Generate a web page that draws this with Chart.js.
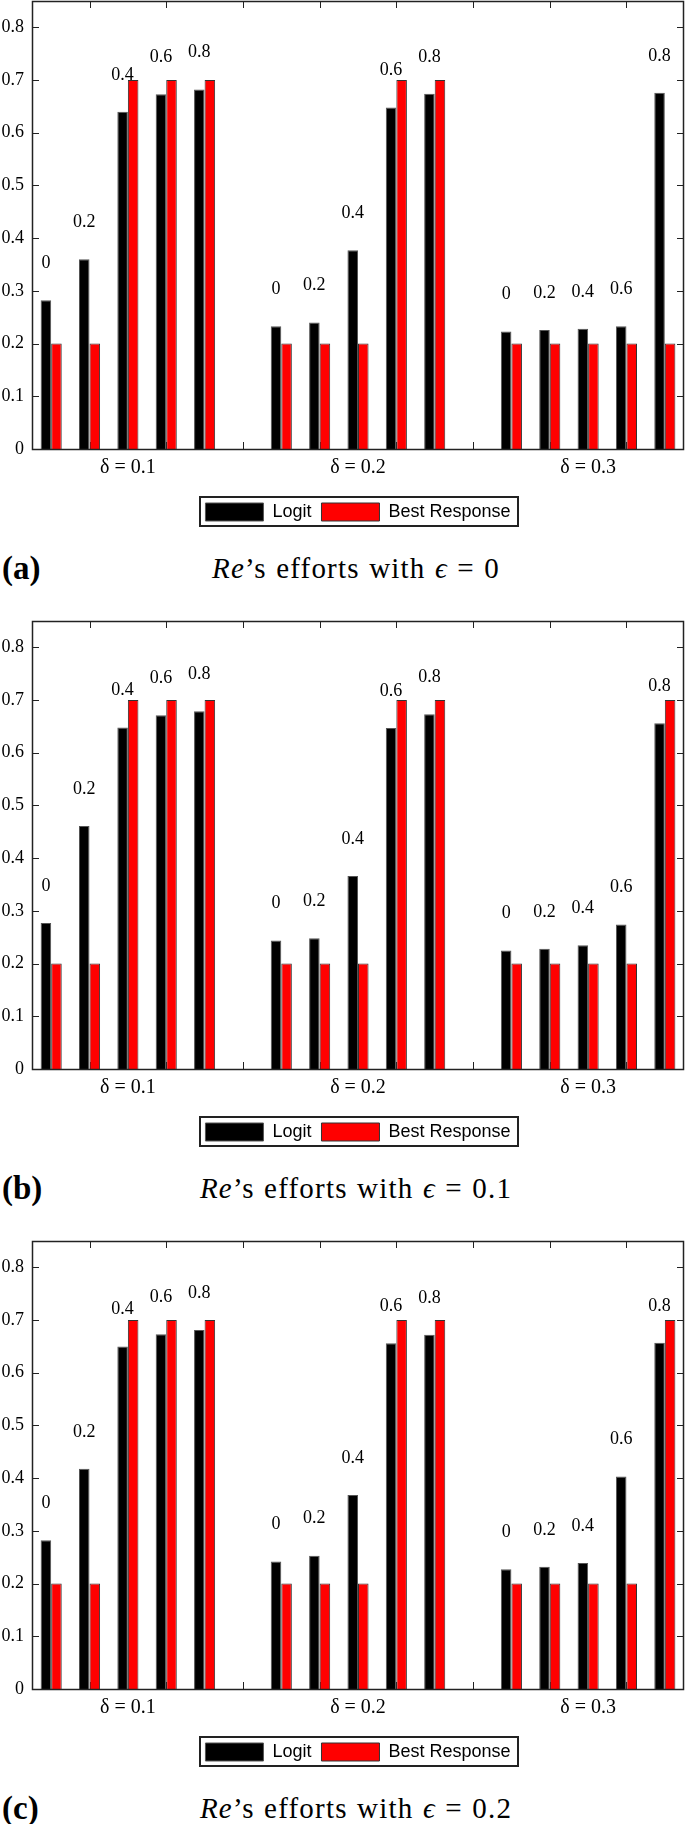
<!DOCTYPE html>
<html>
<head>
<meta charset="utf-8">
<script src="https://cdn.jsdelivr.net/npm/chart.js@4.4.1/dist/chart.umd.min.js"></script>
<style>
  body { margin: 0; background: #fff; width: 685px; height: 1824px; position: relative; overflow: hidden; }
  .panel { position: absolute; left: 0; width: 685px; height: 620px; }
  .panel canvas { position: absolute; left: 0; top: 0; }
  .tag { position: absolute; left: 2px; top: 568px; transform: translateY(-50%); font: bold 33px "Liberation Serif", serif; }
  .cap { position: absolute; left: 356px; top: 568px; transform: translate(-50%, -50%); font: 29px "Liberation Serif", serif; letter-spacing: 1.2px; word-spacing: 1px; white-space: nowrap; }
</style>
</head>
<body>

<div class="panel" style="top:0px">
  <canvas id="chartA" width="685" height="545"></canvas>
  <div class="tag">(a)</div>
  <div class="cap"><i>Re</i>’s efforts with <i>ϵ</i> = 0</div>
</div>
<div class="panel" style="top:620px">
  <canvas id="chartB" width="685" height="545"></canvas>
  <div class="tag">(b)</div>
  <div class="cap"><i>Re</i>’s efforts with <i>ϵ</i> = 0.1</div>
</div>
<div class="panel" style="top:1240px">
  <canvas id="chartC" width="685" height="545"></canvas>
  <div class="tag">(c)</div>
  <div class="cap"><i>Re</i>’s efforts with <i>ϵ</i> = 0.2</div>
</div>

<script>
// groups along the x axis, and the sub-labels written above each pair
const groups = ["δ = 0.1", "δ = 0.2", "δ = 0.3"];
const subLabels = ["0", "0.2", "0.4", "0.6", "0.8"];
const xTickSlots = [2, 4, 6, 8, 10, 12, 14, 16];
const yTicks = [0, 0.1, 0.2, 0.3, 0.4, 0.5, 0.6, 0.7, 0.8];

// (a) epsilon = 0
const logitA = [0.282, 0.360, 0.640, 0.673, 0.682, 0.233, 0.240, 0.377, 0.648, 0.674, 0.223, 0.226, 0.228, 0.233, 0.676];
const bestA  = [0.2, 0.2, 0.7, 0.7, 0.7, 0.2, 0.2, 0.2, 0.7, 0.7, 0.2, 0.2, 0.2, 0.2, 0.2];

// (b) epsilon = 0.1
const logitB = [0.277, 0.461, 0.648, 0.671, 0.679, 0.244, 0.248, 0.366, 0.647, 0.673, 0.225, 0.228, 0.235, 0.274, 0.656];
const bestB  = [0.2, 0.2, 0.7, 0.7, 0.7, 0.2, 0.2, 0.2, 0.7, 0.7, 0.2, 0.2, 0.2, 0.2, 0.7];

// (c) epsilon = 0.2
const logitC = [0.282, 0.418, 0.650, 0.673, 0.681, 0.242, 0.253, 0.368, 0.656, 0.672, 0.227, 0.232, 0.239, 0.403, 0.657];
const bestC  = [0.2, 0.2, 0.7, 0.7, 0.7, 0.2, 0.2, 0.2, 0.7, 0.7, 0.2, 0.2, 0.2, 0.2, 0.7];

Chart.defaults.color = "#000";

// 17 slots: 5 per group, one empty slot between groups
const categories = [];
const tags = [];
groups.forEach((g, gi) => {
    if (gi > 0) { categories.push(""); tags.push(null); }
    subLabels.forEach((s, si) => {
        categories.push(si === 2 ? g : "");
        tags.push(s);
    });
});

function spread(values) {
    const out = [];
    let k = 0;
    tags.forEach(t => out.push(t === null ? null : values[k++]));
    return out;
}

const frame = {
    id: "frame",
    beforeDatasetsDraw(chart) {
        const {ctx, chartArea: a, scales: {x, y}} = chart;
        ctx.save();
        ctx.strokeStyle = "#222";
        ctx.lineWidth = 1;
        ctx.beginPath();
        yTicks.forEach(v => {
            const py = Math.round(y.getPixelForValue(v)) + 0.5;
            ctx.moveTo(a.left, py); ctx.lineTo(a.left + 7, py);
            ctx.moveTo(a.right, py); ctx.lineTo(a.right - 7, py);
        });
        xTickSlots.forEach(s => {
            const px = Math.round(x.getPixelForValue(s - 1)) + 0.5;
            ctx.moveTo(px, a.top); ctx.lineTo(px, a.top + 7);
            ctx.moveTo(px, a.bottom); ctx.lineTo(px, a.bottom - 7);
        });
        ctx.stroke();
        ctx.restore();
    },
    afterDatasetsDraw(chart) {
        const {ctx, chartArea: a} = chart;
        ctx.save();
        ctx.strokeStyle = "#222";
        ctx.lineWidth = 1.5;
        ctx.strokeRect(Math.round(a.left) + 0.5, Math.round(a.top) + 0.5,
            Math.round(a.right) - Math.round(a.left) - 1, Math.round(a.bottom) - Math.round(a.top));
        ctx.restore();
    }
};

const barText = {
    id: "barText",
    afterDatasetsDraw(chart) {
        const {ctx, scales: {y}} = chart;
        const meta = chart.getDatasetMeta(0);
        ctx.save();
        ctx.font = '18px "Liberation Serif"';
        ctx.fillStyle = "#000";
        ctx.textAlign = "center";
        ctx.textBaseline = "middle";
        chart.data.datasets[0].data.forEach((v, i) => {
            if (v === null) return;
            ctx.fillText(tags[i], meta.data[i].x, y.getPixelForValue(v + 0.07));
        });
        ctx.restore();
    }
};

const legendBox = {
    id: "legendBox",
    afterDraw(chart) {
        const boxes = chart.legend.legendHitBoxes;
        if (!boxes || !boxes.length) return;
        const first = boxes[0], last = boxes[boxes.length - 1];
        const l = first.left - 5, r = last.left + last.width + 8;
        const t = first.top - 6, b = first.top + first.height + 5;
        const ctx = chart.ctx;
        ctx.save();
        ctx.strokeStyle = "#222";
        ctx.lineWidth = 2;
        ctx.strokeRect(Math.round(l), Math.round(t), Math.round(r - l), Math.round(b - t));
        ctx.restore();
    }
};

function makeChart(id, logit, best) {
    return new Chart(document.getElementById(id), {
        type: "bar",
        data: {
            labels: categories,
            datasets: [{
                label: "Logit",
                data: spread(logit),
                backgroundColor: "#000",
                borderColor: "#555",
                borderWidth: 1
            }, {
                label: "Best Response",
                data: spread(best),
                backgroundColor: "#ff0000",
                borderColor: "#333",
                borderWidth: 1
            }]
        },
        options: {
            responsive: false,
            animation: false,
            layout: { padding: { top: 1, right: 1, left: 0, bottom: 14 } },
            datasets: {
                bar: { categoryPercentage: 0.55, barPercentage: 1 }
            },
            plugins: {
                legend: {
                    position: "bottom",
                    fullSize: false,
                    labels: {
                        boxWidth: 58,
                        boxHeight: 18,
                        padding: 10,
                        color: "#000",
                        font: { family: '"Liberation Sans", Arial, sans-serif', size: 18 }
                    }
                },
                tooltip: { enabled: false }
            },
            scales: {
                x: {
                    grid: { display: false, drawTicks: false },
                    border: { display: false },
                    ticks: {
                        autoSkip: false,
                        maxRotation: 0,
                        padding: 7,
                        font: { family: '"Liberation Serif", serif', size: 20 }
                    },
                    afterFit(scale) {
                        scale.height = 44;
                        scale.paddingLeft = 0;
                        scale.paddingRight = 0;
                    }
                },
                y: {
                    min: 0,
                    max: 0.85,
                    grid: { display: false, drawTicks: false },
                    border: { display: false },
                    ticks: {
                        stepSize: 0.1,
                        padding: 8,
                        font: { family: '"Liberation Serif", serif', size: 18 },
                        callback: v => String(Math.round(v * 10) / 10)
                    },
                    afterBuildTicks(scale) {
                        scale.ticks = scale.ticks.filter(t => t.value <= 0.8001);
                    },
                    afterFit(scale) {
                        scale.width = 32;
                        scale.paddingTop = 0;
                        scale.paddingBottom = 0;
                    }
                }
            }
        },
        plugins: [frame, barText, legendBox]
    });
}

makeChart("chartA", logitA, bestA);
makeChart("chartB", logitB, bestB);
makeChart("chartC", logitC, bestC);
</script>
</body>
</html>
